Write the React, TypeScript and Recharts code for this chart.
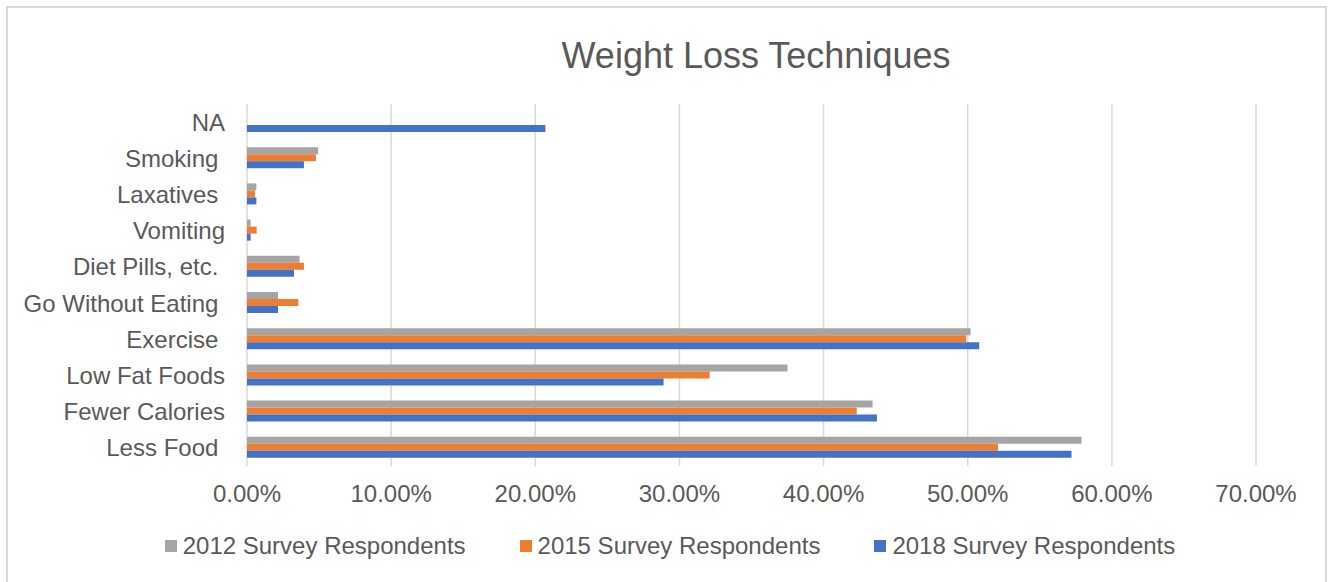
import React from 'react';
import { BarChart, Bar, XAxis, YAxis, CartesianGrid, Legend } from 'recharts';

const categories = [
  'NA',
  'Smoking ',
  'Laxatives ',
  'Vomiting',
  'Diet Pills, etc. ',
  'Go Without Eating ',
  'Exercise ',
  'Low Fat Foods',
  'Fewer Calories',
  'Less Food ',
];

const values2012 = [0, 4.94, 0.65, 0.25, 3.65, 2.15, 50.2, 37.5, 43.4, 57.9];
const values2015 = [0, 4.78, 0.55, 0.67, 3.95, 3.56, 49.9, 32.1, 42.3, 52.1];
const values2018 = [20.7, 3.95, 0.65, 0.25, 3.26, 2.15, 50.8, 28.9, 43.7, 57.2];

const seriesNames = ['2012 Survey Respondents', '2015 Survey Respondents', '2018 Survey Respondents'];
const seriesKeys = ['s2012', 's2015', 's2018'];
const seriesColors = ['#A5A5A5', '#ED7D31', '#4472C4'];

const xTicks = [0, 10, 20, 30, 40, 50, 60, 70];
const title = 'Weight Loss Techniques';

const data = categories.map((c, i) => ({
  name: c,
  s2012: values2012[i],
  s2015: values2015[i],
  s2018: values2018[i],
}));

const FONT = '"Liberation Sans", Arial, sans-serif';
const TEXT = '#595959';

const YTick = (props: any) => {
  const { x, y, payload } = props;
  return (
    <text
      x={x}
      y={y}
      dy="0.355em"
      textAnchor="end"
      fill={TEXT}
      fontSize={24}
      fontFamily={FONT}
      style={{ whiteSpace: 'pre' }}
    >
      {payload.value}
    </text>
  );
};

const XTick = (props: any) => {
  const { x, y, payload } = props;
  return (
    <text x={x} y={y} dy={36} textAnchor="middle" fill={TEXT} fontSize={24} fontFamily={FONT}>
      {`${Number(payload.value).toFixed(2)}%`}
    </text>
  );
};

const LegendContent = () => (
  <div
    style={{
      display: 'flex',
      justifyContent: 'center',
      alignItems: 'center',
      fontFamily: FONT,
      fontSize: 24,
      lineHeight: '24px',
      color: TEXT,
    }}
  >
    {seriesNames.map((n, i) => (
      <div
        key={n}
        style={{ display: 'flex', alignItems: 'center', marginRight: i < seriesNames.length - 1 ? 54 : 0 }}
      >
        <span
          style={{ display: 'inline-block', width: 12, height: 12, background: seriesColors[i], marginRight: 6 }}
        />
        <span>{n}</span>
      </div>
    ))}
  </div>
);

export default function App() {
  return (
    <div style={{ position: 'absolute', left: 0, top: 0, width: 1331, height: 582, background: '#fff', overflow: 'hidden' }}>
      <div
        style={{
          position: 'absolute',
          left: 6,
          top: 6,
          width: 1321,
          height: 620,
          boxSizing: 'border-box',
          border: '2px solid #d9d9d9',
        }}
      />
      <div style={{ position: 'absolute', left: 0, top: 0 }}>
        <BarChart
          width={1331}
          height={582}
          data={data}
          layout="vertical"
          margin={{ top: 104, right: 75, bottom: 76, left: 0 }}
          barCategoryGap={7}
          barGap={0}
        >
          <text x={756} y={68} textAnchor="middle" fill={TEXT} fontSize={36} fontFamily={FONT}>
            {title}
          </text>
          <CartesianGrid horizontal={false} vertical={true} stroke="#d9d9d9" strokeWidth={1.5} />
          <XAxis
            type="number"
            domain={[0, 70]}
            ticks={xTicks}
            axisLine={false}
            tickLine={false}
            tickSize={0}
            tickMargin={0}
            height={40}
            tick={<XTick />}
            interval={0}
          />
          <YAxis
            type="category"
            dataKey="name"
            width={247}
            axisLine={false}
            tickLine={false}
            tickSize={0}
            tickMargin={22}
            tick={<YTick />}
            interval={0}
          />
          <Legend
            layout="horizontal"
            verticalAlign="middle"
            align="center"
            content={<LegendContent />}
            wrapperStyle={{ position: 'absolute', left: 11, top: 534, width: 1318, height: 24 }}
          />
          {seriesKeys.map((k, i) => (
            <Bar key={k} dataKey={k} name={seriesNames[i]} fill={seriesColors[i]} isAnimationActive={false} />
          ))}
        </BarChart>
      </div>
    </div>
  );
}
